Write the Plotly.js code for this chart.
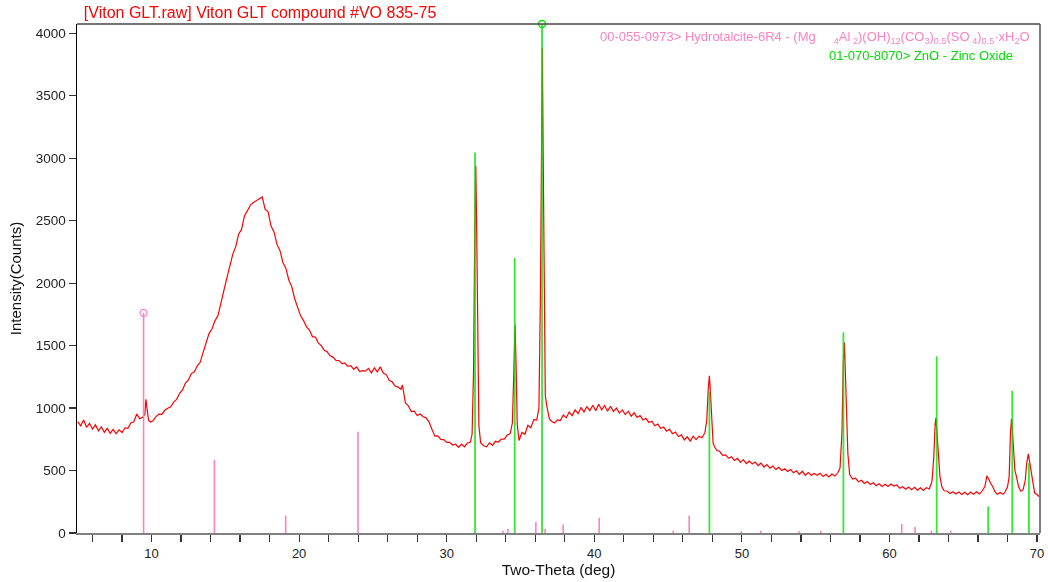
<!DOCTYPE html>
<html>
<head>
<meta charset="utf-8">
<script src="https://cdn.plot.ly/plotly-3.0.1.min.js"></script>
<style>html,body{margin:0;padding:0;background:#fff;}#chart{width:1048px;height:582px;}</style>
</head>
<body>
<div id="chart"></div>
<script>
// Measured scan (Two-Theta in degrees, intensity in counts)
const twoTheta = [
5.0,5.2,5.4,5.6,5.8,6.0,6.2,6.4,6.6,6.8,
7.0,7.2,7.4,7.6,7.8,8.0,8.2,8.4,8.6,8.8,
9.0,9.2,9.4,9.55,9.62,9.7,9.8,9.95,10.1,10.3,
10.5,10.7,10.9,11.1,11.3,11.5,11.7,11.9,12.1,12.3,
12.5,12.7,12.9,13.1,13.3,13.5,13.7,13.9,14.1,14.3,
14.5,14.7,14.9,15.1,15.3,15.5,15.7,15.9,16.1,16.3,
16.5,16.7,16.9,17.1,17.3,17.5,17.7,17.9,18.1,18.3,
18.5,18.7,18.9,19.1,19.3,19.5,19.7,19.9,20.1,20.3,
20.5,20.7,20.9,21.1,21.3,21.5,21.7,21.9,22.1,22.3,
22.5,22.7,22.9,23.1,23.3,23.5,23.7,23.9,24.1,24.3,
24.5,24.7,24.9,25.1,25.3,25.5,25.7,25.9,26.1,26.3,
26.5,26.7,26.9,27.0,27.2,27.4,27.6,27.8,28.0,28.2,
28.4,28.6,28.8,29.0,29.2,29.4,29.6,29.8,30.0,30.2,
30.4,30.6,30.8,31.0,31.2,31.4,31.6,31.72,31.82,31.9,
31.97,32.03,32.1,32.18,32.3,32.5,32.7,32.9,33.1,33.3,
33.5,33.7,33.9,34.1,34.3,34.45,34.55,34.63,34.7,34.78,
34.9,35.1,35.3,35.5,35.7,35.9,36.1,36.25,36.35,36.43,
36.48,36.54,36.6,36.68,36.78,36.95,37.1,37.3,37.5,37.7,
37.9,38.1,38.3,38.5,38.7,38.9,39.1,39.3,39.5,39.7,
39.9,40.1,40.3,40.5,40.7,40.9,41.1,41.3,41.5,41.7,
41.9,42.1,42.3,42.5,42.7,42.9,43.1,43.3,43.5,43.7,
43.9,44.1,44.3,44.5,44.7,44.9,45.1,45.3,45.5,45.7,
45.9,46.1,46.3,46.5,46.7,46.9,47.1,47.3,47.5,47.62,
47.72,47.8,47.88,47.96,48.05,48.15,48.3,48.5,48.7,48.9,
49.1,49.3,49.5,49.7,49.9,50.1,50.3,50.5,50.7,50.9,
51.1,51.3,51.5,51.7,51.9,52.1,52.3,52.5,52.7,52.9,
53.1,53.3,53.5,53.7,53.9,54.1,54.3,54.5,54.7,54.9,
55.1,55.3,55.5,55.7,55.9,56.1,56.3,56.5,56.65,56.78,
56.87,56.95,57.02,57.1,57.18,57.3,57.5,57.7,57.9,58.1,
58.3,58.5,58.7,58.9,59.1,59.3,59.5,59.7,59.9,60.1,
60.3,60.5,60.7,60.9,61.1,61.3,61.5,61.7,61.9,62.1,
62.3,62.5,62.7,62.88,63.0,63.1,63.15,63.22,63.3,63.42,
63.55,63.7,63.9,64.1,64.3,64.5,64.7,64.9,65.1,65.3,
65.5,65.7,65.9,66.1,66.3,66.47,66.6,66.7,66.85,67.0,
67.15,67.3,67.5,67.7,67.85,68.0,68.11,68.2,68.27,68.34,
68.42,68.5,68.6,68.75,68.9,69.05,69.2,69.3,69.41,69.5,
69.6,69.7,69.84,70.0,70.13
];
const counts = [
892,858,905,846,878,832,866,818,850,806,
838,798,830,794,826,804,842,838,880,890,
952,915,926,950,1070,975,900,888,898,932,
952,950,982,998,1010,1048,1070,1118,1146,1200,
1226,1276,1290,1338,1366,1448,1515,1598,1635,1700,
1738,1850,1940,2040,2130,2228,2290,2392,2430,2540,
2580,2625,2645,2660,2672,2690,2590,2570,2455,2410,
2310,2262,2165,2120,2025,1972,1875,1810,1738,1700,
1650,1625,1572,1568,1522,1500,1462,1450,1418,1408,
1382,1380,1356,1362,1334,1340,1310,1330,1292,1300,
1296,1318,1282,1322,1290,1330,1280,1268,1222,1210,
1176,1168,1150,1185,1042,1018,972,975,940,952,
930,922,890,830,775,778,750,748,725,726,
704,710,686,712,690,720,726,790,1300,2400,
2940,2450,1350,860,722,698,690,722,702,734,
728,752,752,784,795,880,1300,1666,1350,870,
740,805,790,862,842,908,905,1000,1900,3300,
3880,3000,1800,1100,1020,915,895,880,905,900,
945,922,968,940,985,955,1005,968,1012,980,
1022,978,1030,985,1020,975,1015,972,1000,960,
985,948,975,935,962,925,940,905,918,885,
895,858,872,838,848,815,830,795,808,772,
785,745,770,735,775,748,775,762,805,900,
1150,1258,1100,860,720,690,662,652,622,625,
598,610,580,598,565,588,556,575,552,568,
540,560,528,548,518,536,508,525,500,514,
492,508,482,498,470,494,462,484,462,476,
462,478,452,470,448,472,456,482,520,800,
1350,1525,1300,900,640,470,432,438,410,422,
396,412,388,402,378,394,372,390,372,392,
376,384,358,370,350,368,346,366,342,362,
340,362,352,413,600,880,920,800,626,453,
370,338,336,316,330,312,328,308,326,306,
328,310,330,312,340,373,458,430,400,370,
330,310,325,310,332,370,450,800,912,800,
626,500,453,370,335,345,420,560,634,560,
493,400,320,308,292
];

// Reference pattern 00-055-0973 Hydrotalcite-6R4 (stick positions / heights)
const hydroPos = [9.46,14.26,19.09,23.99,33.81,34.15,36.04,36.67,37.89,40.33,45.35,46.43,49.97,51.28,53.88,55.35,60.83,61.74,62.85,64.15];
const hydroInt = [1762,586,141,810,19,32,88,34,69,122,18,141,15,18,15,18,72,50,18,18];

// Reference pattern 01-070-8070 ZnO (stick positions / heights)
const zincPos = [31.92,34.61,36.46,47.80,56.88,63.20,66.69,68.32,69.45];
const zincInt = [3045,2202,4074,1135,1606,1413,213,1138,560];

const titleText = '[Viton GLT.raw] Viton GLT compound #VO 835-75';
const hydroLabel = '00-055-0973> Hydrotalcite-6R4 - (Mg     <sub>4</sub>Al<sub> 2</sub>)(OH)<sub>12</sub>(CO<sub>3</sub>)<sub>0.5</sub>(SO<sub> 4</sub>)<sub>0.5</sub>·xH<sub>2</sub>O';
const zincLabel = '01-070-8070> ZnO - Zinc Oxide';
const xTickVals = [10,20,30,40,50,60,70];
const yTickVals = [0,500,1000,1500,2000,2500,3000,3500,4000];

const PINK = 'rgb(255,128,192)';
const GREEN = 'rgb(0,225,0)';
const FONT = 'Liberation Sans, Arial, sans-serif';

function sticks(pos, h) {
  const x = [], y = [];
  pos.forEach((p, i) => { x.push(p, p, null); y.push(0, h[i], null); });
  return {x, y};
}
function topOf(pos, h) {
  let k = 0; h.forEach((v, i) => { if (v > h[k]) k = i; });
  return {x: [pos[k]], y: [h[k]]};
}

const hs = sticks(hydroPos, hydroInt);
const zs = sticks(zincPos, zincInt);
const ht = topOf(hydroPos, hydroInt);
const zt = topOf(zincPos, zincInt);

const traces = [
  {x: twoTheta, y: counts, type: 'scatter', mode: 'lines',
   line: {color: '#ff0000', width: 1.2}, hoverinfo: 'skip'},
  {x: hs.x, y: hs.y, type: 'scatter', mode: 'lines',
   line: {color: PINK, width: 1.6}, hoverinfo: 'skip'},
  {x: zs.x, y: zs.y, type: 'scatter', mode: 'lines', opacity: 0.8,
   line: {color: GREEN, width: 1.8}, hoverinfo: 'skip'},
  {x: ht.x, y: ht.y, type: 'scatter', mode: 'markers', cliponaxis: false,
   marker: {symbol: 'circle-open', size: 7, color: PINK, line: {width: 1.3, color: PINK}}},
  {x: zt.x, y: zt.y, type: 'scatter', mode: 'markers', cliponaxis: false,
   marker: {symbol: 'circle-open', size: 7, color: GREEN, line: {width: 1.3, color: GREEN}}}
];

const layout = {
  width: 1048, height: 582,
  margin: {l: 77, r: 8, t: 24, b: 49},
  paper_bgcolor: '#ffffff', plot_bgcolor: '#ffffff',
  showlegend: false,
  font: {family: FONT, color: '#222'},
  title: {text: titleText, font: {family: FONT, size: 16, color: '#ff0000'},
          x: 0.080, xanchor: 'left', xref: 'container', y: 0.979, yanchor: 'middle', yref: 'container'},
  xaxis: {
    range: [4.95, 70.2], showgrid: false, zeroline: false,
    showline: true, linecolor: '#808080', linewidth: 2,
    tickmode: 'array', tickvals: xTickVals, ticks: 'outside', ticklen: 7, tickwidth: 1.2, tickcolor: '#333',
    minor: {dtick: 2, tick0: 0, ticks: 'outside', ticklen: 7, tickwidth: 1.2, tickcolor: '#333'},
    tickfont: {family: FONT, size: 13, color: '#222'},
    title: {text: 'Two-Theta (deg)', font: {family: FONT, size: 15.5, color: '#111'}, standoff: 0}
  },
  yaxis: {
    range: [0, 4074], showgrid: false, zeroline: false,
    showline: true, linecolor: '#000', linewidth: 1.5,
    tickmode: 'array', tickvals: yTickVals, ticks: 'outside', ticklen: 7, tickwidth: 1.2, tickcolor: '#333',
    tickfont: {family: FONT, size: 13.5, color: '#222'},
    title: {text: 'Intensity(Counts)', font: {family: FONT, size: 15, color: '#111'}, standoff: 10}
  },
  shapes: [
    {type: 'line', xref: 'paper', yref: 'paper', x0: 0, x1: 1, y0: 1, y1: 1, line: {color: '#444', width: 1.5}},
    {type: 'line', xref: 'paper', yref: 'paper', x0: 1, x1: 1, y0: 0, y1: 1, line: {color: '#555', width: 1.5}}
  ],
  annotations: [
    {text: hydroLabel, xref: 'paper', yref: 'paper', x: 0.9917, y: 0.9725, xanchor: 'right', yanchor: 'middle',
     showarrow: false, font: {family: FONT, size: 13, color: PINK}},
    {text: zincLabel, xref: 'paper', yref: 'paper', x: 0.974, y: 0.939, xanchor: 'right', yanchor: 'middle',
     showarrow: false, font: {family: FONT, size: 13, color: 'rgb(0,220,0)'}}
  ]
};

Plotly.newPlot('chart', traces, layout, {displayModeBar: false, staticPlot: true});
</script>
</body>
</html>
